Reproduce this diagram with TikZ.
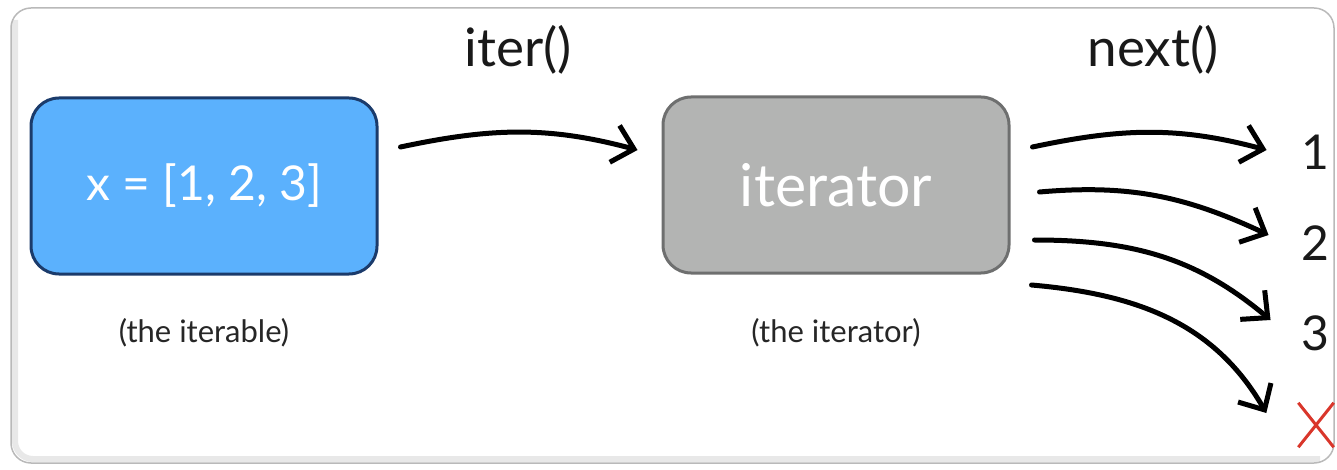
\documentclass[tikz,border=0pt]{standalone}
\usepackage{fontspec}
\setmainfont{Lato}
\usepackage{tikz}
\usetikzlibrary{arrows.meta}
\usetikzlibrary{calc}

\definecolor{iterfill}{HTML}{5BB1FD}
\definecolor{iterborder}{HTML}{1B3B6B}
\definecolor{grayfill}{HTML}{B3B4B3}
\definecolor{grayborder}{HTML}{6E6F6F}
\definecolor{stopred}{HTML}{D9362B}

\begin{document}
\begin{tikzpicture}[x=1pt, y=1pt,
        box_style/.style={rounded corners=28pt, line width=3pt, minimum width=346pt, minimum height=176pt, text=white},
        iterable_style/.style={box_style, draw=iterborder, fill=iterfill, font=\fontsize{48}{56}\selectfont},
        iterator_style/.style={box_style, draw=grayborder, fill=grayfill, font=\fontsize{59}{66}\selectfont},
        caption_style/.style={font=\fontsize{31}{36}\selectfont, text=black!85},
        call_style/.style={font=\fontsize{53}{60}\selectfont, text=black!90},
        value_style/.style={font=\fontsize{48}{56}\selectfont, text=black!90},
        edge_style/.style={draw=black, line width=5pt, line cap=round, -{Straight Barb[length=20pt,width=38pt,line width=5pt]}}]

        \useasboundingbox (0,0) rectangle (1337,-470);

        % frame
        \draw [gray!18, line width=6pt, rounded corners=18pt] (15,-20) |- (1320,-459);
        \draw [gray!55, line width=1.5pt, rounded corners=20pt] (11,-8) rectangle (1334,-463);

        \node [iterable_style](iterable) at (204,-186) {x = [1, 2, 3]};
        \node [caption_style](iterable_cap) at (204,-333) {(the iterable)};
        \node [iterator_style](iterator) at (836,-185) {iterator};
        \node [caption_style](iterator_cap) at (836,-333) {(the iterator)};
        \node [call_style](iter_call) at (518,-50) {iter()};
        \node [call_style](next_call) at (1153,-50) {next()};
        \node [value_style](v1) at (1315,-152) {1};
        \node [value_style](v2) at (1315,-243) {2};
        \node [value_style](v3) at (1315,-333) {3};
        \node [inner sep=0pt, minimum width=35pt, minimum height=44pt](stop) at (1316,-425) {};
        \draw [stopred, line width=3pt] (stop.north west) -- (stop.south east);
        \draw [stopred, line width=3pt] (stop.north east) -- (stop.south west);

        \draw [edge_style] ([shift={(22,39)}]iterable.east) to[out=12, in=165] ([shift={(-24,35)}]iterator.west);
        \draw [edge_style] ([shift={(22,38)}]iterator.east) to[out=12, in=165] ([shift={(-31,2)}]v1.west);
        \draw [edge_style] ([shift={(29,-7)}]iterator.east) to[out=5, in=155] ([shift={(-29,8)}]v2.west);
        \draw [edge_style] ([shift={(24,-55)}]iterator.east) to[out=0, in=140] ([shift={(-27,13)}]v3.west);
        \draw [edge_style] ([shift={(21,-100)}]iterator.east) to[out=-5, in=120] ([shift={(-32,12)}]stop.west);
        \end{tikzpicture}
\end{document}
